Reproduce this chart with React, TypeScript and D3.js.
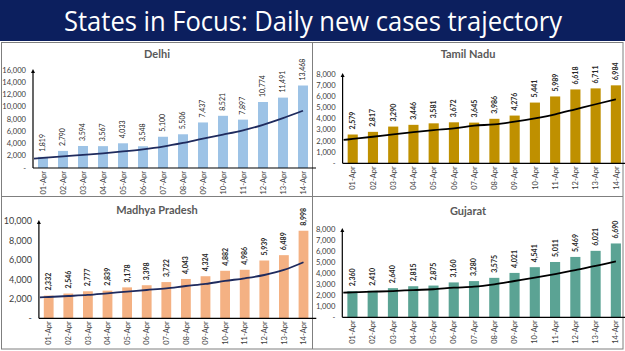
import React from "react";
import * as d3 from "d3";

const dates = ["01-Apr","02-Apr","03-Apr","04-Apr","05-Apr","06-Apr","07-Apr","08-Apr","09-Apr","10-Apr","11-Apr","12-Apr","13-Apr","14-Apr"];

const delhiCases = [1819, 2790, 3594, 3567, 4033, 3548, 5100, 5506, 7437, 8521, 7897, 10774, 11491, 13468];
const delhiTrend = [1650, 1900, 2150, 2400, 2700, 3050, 3500, 4100, 4800, 5450, 6150, 7050, 8150, 9350];
const delhiTicks = [0, 2000, 4000, 6000, 8000, 10000, 12000, 14000, 16000];

const tnCases = [2579, 2817, 3290, 3446, 3581, 3672, 3645, 3986, 4276, 5441, 5989, 6618, 6711, 6984];
const tnTrend = [2180, 2380, 2600, 2800, 2980, 3130, 3370, 3490, 3730, 4030, 4390, 4840, 5290, 5730];
const tnTicks = [0, 1000, 2000, 3000, 4000, 5000, 6000, 7000, 8000];

const mpCases = [2332, 2546, 2777, 2839, 3178, 3398, 3722, 4043, 4324, 4882, 4986, 5939, 6489, 8998];
const mpTrend = [2190, 2290, 2400, 2570, 2740, 2910, 3080, 3320, 3530, 3840, 4110, 4450, 4970, 5760];
const mpTicks = [0, 2000, 4000, 6000, 8000, 10000];

const gujCases = [2360, 2410, 2640, 2815, 2875, 3160, 3280, 3575, 4021, 4541, 5011, 5469, 6021, 6690];
const gujTrend = [2260, 2320, 2380, 2470, 2540, 2680, 2770, 2990, 3290, 3590, 3920, 4280, 4650, 5070];
const gujTicks = [0, 1000, 2000, 3000, 4000, 5000, 6000, 7000, 8000];

const FONT = "Lato, 'Open Sans', sans-serif";
const fmt = d3.format(",");

type PanelProps = {
  title: string;
  titleX: number;
  titleY: number;
  cases: number[];
  trend: number[];
  ticks: number[];
  x0: number;
  x1: number;
  yBase: number;
  yTop: number;
  barColor: string;
  lineColor: string;
  tickFont: number;
  valueBold: boolean;
  id: string;
};

function Panel(p: PanelProps) {
  const max = p.ticks[p.ticks.length - 1];
  const x = d3.scaleBand<string>().domain(dates).range([p.x0, p.x1]).paddingInner(0.5).paddingOuter(0.25);
  const y = d3.scaleLinear().domain([0, max]).range([p.yBase, p.yTop]);
  const cx = (d: string) => (x(d) as number) + x.bandwidth() / 2;
  const pts: [number, number][] = p.trend.map((v, i) => [cx(dates[i]), y(v)]);
  // extend trend back to the axis along the first segment
  const slope = (pts[1][1] - pts[0][1]) / (pts[1][0] - pts[0][0]);
  const startPt: [number, number] = [p.x0 + 1, pts[0][1] - slope * (pts[0][0] - p.x0 - 1)];
  const line = d3.line().curve(d3.curveMonotoneX)([startPt, ...pts]) as string;
  return (
    <g>
      <text x={p.titleX} y={p.titleY} textAnchor="middle" fontFamily={FONT} fontWeight="bold" fontSize={11} fill="#595959">{p.title}</text>
      {p.ticks.map((t) => (
        <text key={t} x={p.x0 - 7} y={y(t)} dy="0.35em" textAnchor="end" fontFamily={FONT} fontSize={p.tickFont} fill="#404040">
          {t === 0 ? "-" : fmt(t)}
        </text>
      ))}
      {p.cases.map((v, i) => (
        <rect key={i} x={x(dates[i])} y={y(v)} width={x.bandwidth()} height={p.yBase - y(v)} fill={p.barColor} />
      ))}
      {p.cases.map((v, i) => (
        <text key={"v" + i} transform={`translate(${cx(dates[i])},${y(v) - 5}) rotate(-90)`} dy="0.35em" textAnchor="start"
          fontFamily={FONT} fontSize={7} fontWeight={p.valueBold ? "bold" : "normal"} fill="#262626">{fmt(v)}</text>
      ))}
      {dates.map((d) => (
        <text key={d} transform={`translate(${cx(d)},${p.yBase + 3}) rotate(-90)`} dy="0.35em" textAnchor="end"
          fontFamily={FONT} fontSize={7.5} fill="#404040">{d}</text>
      ))}
      <path d={line} fill="none" stroke={p.lineColor} strokeWidth={1.8} />
      <line x1={p.x0} x2={p.x1 + 3} y1={p.yBase} y2={p.yBase} stroke="#000" strokeWidth={1.2} />
      <line x1={p.x0} x2={p.x0} y1={p.yBase} y2={p.yTop + 2} stroke="#000" strokeWidth={1.2} />
      <path d={`M${p.x0 - 2},${p.yTop + 3} L${p.x0},${p.yTop - 1} L${p.x0 + 2},${p.yTop + 3} Z`} fill="#000" />
    </g>
  );
}

export default function App() {
  return (
    <div style={{ position: "fixed", left: 0, top: 0 }}>
      <svg width={625} height={351} style={{ display: "block", background: "#fff" }}>
        <rect x={0} y={0} width={625} height={41} fill="#0c1f5e" />
        <text x={313} y={31} textAnchor="middle" fontFamily="'Open Sans', Lato, sans-serif" fontSize={27} fill="#fff" textLength={498} lengthAdjust="spacingAndGlyphs">
          States in Focus: Daily new cases trajectory
        </text>
        <rect x={1.5} y={42.5} width={621.5} height={306.5} fill="none" stroke="#7f7f7f" strokeWidth={1} />
        <line x1={312.5} x2={312.5} y1={42} y2={349} stroke="#7f7f7f" />
        <line x1={1} x2={623} y1={196.5} y2={196.5} stroke="#7f7f7f" />
        <Panel id="delhi" title="Delhi" titleX={157} titleY={58} cases={delhiCases} trend={delhiTrend} ticks={delhiTicks}
          x0={33} x1={313} yBase={168} yTop={70} barColor="#9dc3e6" lineColor="#1f2b5e" tickFont={7.6} valueBold={false} />
        <Panel id="tn" title="Tamil Nadu" titleX={468} titleY={58} cases={tnCases} trend={tnTrend} ticks={tnTicks}
          x0={342.6} x1={626} yBase={163.3} yTop={74} barColor="#bf9000" lineColor="#000" tickFont={7.6} valueBold={true} />
        <Panel id="mp" title="Madhya Pradesh" titleX={157} titleY={214} cases={mpCases} trend={mpTrend} ticks={mpTicks}
          x0={38.9} x1={313.3} yBase={318.3} yTop={221} barColor="#f4b183" lineColor="#1f2b5e" tickFont={9} valueBold={true} />
        <Panel id="guj" title="Gujarat" titleX={468} titleY={215} cases={gujCases} trend={gujTrend} ticks={gujTicks}
          x0={342.3} x1={626} yBase={317.3} yTop={229} barColor="#5ba394" lineColor="#000" tickFont={7.6} valueBold={true} />
      </svg>
    </div>
  );
}
